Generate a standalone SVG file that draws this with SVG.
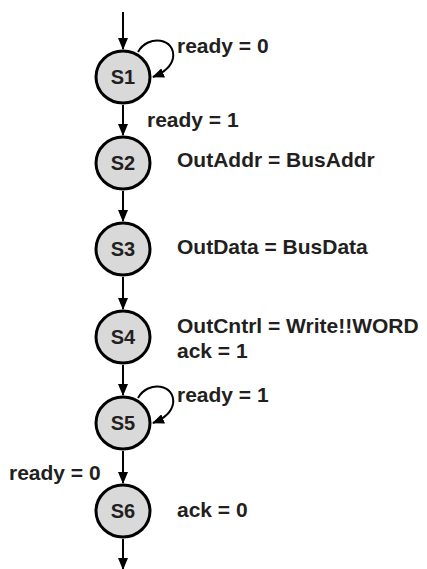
<svg xmlns="http://www.w3.org/2000/svg" width="427" height="569" viewBox="0 0 427 569">
  <defs>
    <marker id="ah" markerUnits="userSpaceOnUse" markerWidth="12" markerHeight="10" refX="11" refY="5" orient="auto">
      <path d="M0,0 L12,5 L0,10 z" fill="#000"/>
    </marker>
    <style>
      .st ellipse { fill: #d9d9d9; stroke: #000; stroke-width: 3; }
      .st text { font-family: "Liberation Sans", Arial, sans-serif; font-weight: bold; font-size: 20px; fill: #231f20; text-anchor: middle; }
      .lbl { font-family: "Liberation Sans", Arial, sans-serif; font-weight: bold; font-size: 21px; fill: #231f20; }
      .edge { fill: none; stroke: #000; stroke-width: 2; marker-end: url(#ah); }
    </style>
  </defs>
  <rect width="427" height="569" fill="#fff"/>

  <g id="connectors">
    <line class="edge" x1="123" y1="12" x2="123" y2="49"/>
    <path class="edge" d="M138,52 C148,34 176,38 173,58 C171,68 163,73 153,77"/>
    <line class="edge" x1="123" y1="105" x2="123" y2="135"/>
    <line class="edge" x1="123" y1="191" x2="123" y2="221"/>
    <line class="edge" x1="123" y1="277" x2="123" y2="309"/>
    <line class="edge" x1="123" y1="365" x2="123" y2="395"/>
    <path class="edge" d="M138,398 C148,380 176,384 173,404 C171,414 163,419 153,423"/>
    <line class="edge" x1="123" y1="451" x2="123" y2="483"/>
    <line class="edge" x1="123" y1="539" x2="123" y2="569"/>
  </g>

  <g id="S1" class="st"><ellipse cx="123" cy="77" rx="27" ry="26"/><text x="123" y="84">S1</text></g>
  <g id="S2" class="st"><ellipse cx="123" cy="163" rx="27" ry="26"/><text x="123" y="170">S2</text></g>
  <g id="S3" class="st"><ellipse cx="123" cy="249" rx="27" ry="26"/><text x="123" y="256">S3</text></g>
  <g id="S4" class="st"><ellipse cx="123" cy="337" rx="27" ry="26"/><text x="123" y="344">S4</text></g>
  <g id="S5" class="st"><ellipse cx="123" cy="423" rx="27" ry="26"/><text x="123" y="430">S5</text></g>
  <g id="S6" class="st"><ellipse cx="123" cy="511" rx="27" ry="26"/><text x="123" y="518">S6</text></g>

  <g id="labels">
    <text class="lbl" x="177" y="53">ready = 0</text>
    <text class="lbl" x="147" y="127">ready = 1</text>
    <text class="lbl" x="177" y="167">OutAddr = BusAddr</text>
    <text class="lbl" x="177" y="254">OutData = BusData</text>
    <text class="lbl" x="177" y="333">OutCntrl = Write!!WORD</text>
    <text class="lbl" x="177" y="358">ack = 1</text>
    <text class="lbl" x="177" y="402">ready = 1</text>
    <text class="lbl" x="9" y="480">ready = 0</text>
    <text class="lbl" x="177" y="517">ack = 0</text>
  </g>
</svg>
